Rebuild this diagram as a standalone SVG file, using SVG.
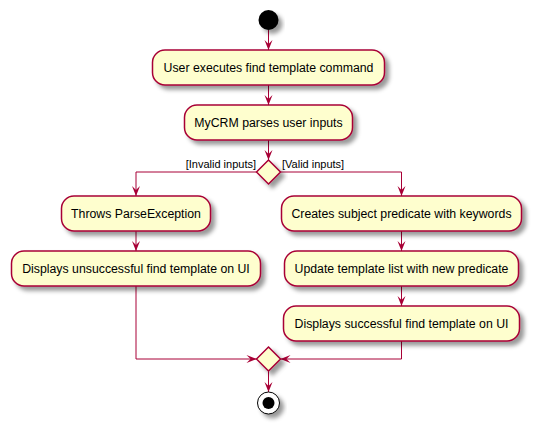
<svg xmlns="http://www.w3.org/2000/svg" width="539" height="427" viewBox="0 0 539 427">
<style>
.act{fill:#FEFECE;stroke:#A80036;stroke-width:1.5;filter:url(#sh)}
.dec{fill:#FEFECE;stroke:#A80036;stroke-width:1.5;filter:url(#sh)}
.t{font-family:"Liberation Sans",Arial,sans-serif;font-size:12.3px;fill:#000;text-anchor:middle}
.lbl{font-family:"Liberation Sans",Arial,sans-serif;font-size:11px;fill:#000}
.c{fill:none;stroke:#A80036;stroke-width:1;marker-end:url(#ah)}
</style>
<defs>
<filter id="sh" x="-20%" y="-20%" width="150%" height="160%">
<feGaussianBlur in="SourceAlpha" stdDeviation="2" result="b"/>
<feColorMatrix in="b" type="matrix" values="0 0 0 0 0 0 0 0 0 0 0 0 0 0 0 0 0 0 .4 0" result="c"/>
<feOffset in="c" dx="4" dy="4" result="o"/>
<feBlend in="SourceGraphic" in2="o" mode="normal"/>
</filter>
<marker id="ah" markerUnits="userSpaceOnUse" markerWidth="10" markerHeight="8" refX="10" refY="4" orient="auto" overflow="visible">
<path d="M0,0 L10,4 L0,8 L4,4 Z" fill="#A80036"/>
</marker>
</defs>
<rect width="539" height="427" fill="#fff"/>
<g id="connectors">
<line class="c" x1="268.5" y1="30" x2="268.5" y2="50"/>
<line class="c" x1="268.5" y1="85" x2="268.5" y2="105"/>
<line class="c" x1="268.5" y1="140" x2="268.5" y2="160"/>
<polyline class="c" points="256.5,172 136,172 136,196"/>
<polyline class="c" points="280.5,172 401.5,172 401.5,196"/>
<line class="c" x1="136" y1="231" x2="136" y2="251"/>
<line class="c" x1="401.5" y1="231" x2="401.5" y2="251"/>
<line class="c" x1="401.5" y1="286" x2="401.5" y2="306"/>
<polyline class="c" points="136,286 136,359 256.5,359"/>
<polyline class="c" points="401.5,341 401.5,359 280.5,359"/>
<line class="c" x1="268.5" y1="371" x2="268.5" y2="392"/>
<text class="lbl" x="256" y="168" text-anchor="end">[Invalid inputs]</text>
<text class="lbl" x="282" y="168">[Valid inputs]</text>
</g>
<g id="start"><circle cx="268.5" cy="20" r="10" fill="#000" filter="url(#sh)"/></g>
<g id="n1"><rect class="act" x="152.5" y="50" width="232" height="35" rx="12.5"/><text class="t" x="268.5" y="71.5">User executes find template command</text></g>
<g id="n2"><rect class="act" x="184.5" y="105" width="168" height="35" rx="12.5"/><text class="t" x="268.5" y="126.5">MyCRM parses user inputs</text></g>
<g id="d1"><polygon class="dec" points="268.5,160 280.5,172 268.5,184 256.5,172"/></g>
<g id="n3"><rect class="act" x="61.5" y="196" width="149" height="35" rx="12.5"/><text class="t" x="136" y="217.5">Throws ParseException</text></g>
<g id="n4"><rect class="act" x="11.5" y="251" width="249" height="35" rx="12.5"/><text class="t" x="136" y="272.5">Displays unsuccessful find template on UI</text></g>
<g id="n5"><rect class="act" x="281.5" y="196" width="240" height="35" rx="12.5"/><text class="t" x="401.5" y="217.5">Creates subject predicate with keywords</text></g>
<g id="n6"><rect class="act" x="284.5" y="251" width="234" height="35" rx="12.5"/><text class="t" x="401.5" y="272.5">Update template list with new predicate</text></g>
<g id="n7"><rect class="act" x="283.5" y="306" width="236" height="35" rx="12.5"/><text class="t" x="401.5" y="327.5">Displays successful find template on UI</text></g>
<g id="d2"><polygon class="dec" points="268.5,347 280.5,359 268.5,371 256.5,359"/></g>
<g id="end"><circle cx="268.5" cy="403" r="11" fill="#fff" stroke="#000" stroke-width="1" filter="url(#sh)"/><circle cx="268.5" cy="403" r="6" fill="#000"/></g>
</svg>
